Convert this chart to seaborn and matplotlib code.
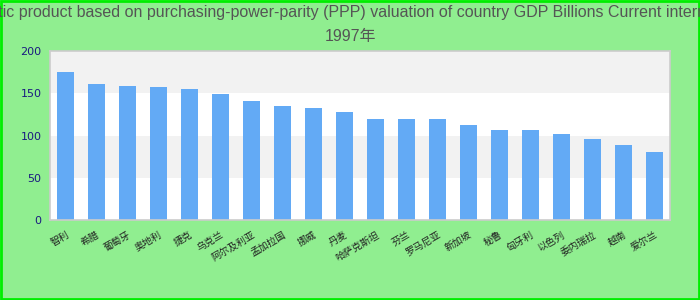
import matplotlib
matplotlib.use("Agg")
import matplotlib.pyplot as plt
import seaborn as sns
import pandas as pd

title = ("Gross domestic product based on purchasing-power-parity (PPP) valuation of "
         "country GDP Billions Current international dollar\n1997年")
countries = ["智利", "希腊", "葡萄牙", "奥地利", "捷克", "乌克兰", "阿尔及利亚", "孟加拉国",
             "挪威", "丹麦", "哈萨克斯坦", "芬兰", "罗马尼亚", "新加坡", "秘鲁", "匈牙利",
             "以色列", "委内瑞拉", "越南", "爱尔兰"]
values = [175, 161, 158, 157, 155, 149, 141, 135, 133, 128,
          119, 119, 119, 113, 106, 106, 102, 96, 89, 80]
yticks = [0, 50, 100, 150, 200]

sns.set_theme(style="white")
plt.rcParams['font.family'] = ['DejaVu Sans', 'Noto Sans CJK SC']

df = pd.DataFrame({"country": countries, "value": values})

fig = plt.figure(figsize=(7, 3), dpi=100, facecolor="#90ee90")
ax = fig.add_axes([50/700, 1-220/300, 620/700, 169/300])
ax.set_facecolor("white")

sns.barplot(data=df, x="country", y="value", color="#63aaf5", saturation=1,
            width=0.55, ax=ax, zorder=2, linewidth=0, edgecolor="none")

ax.set_xlim(-0.5, len(countries) - 0.5)
ax.set_ylim(0, 200)
for lo, hi in [(50, 100), (150, 200)]:
    ax.fill_between([-0.5, len(countries) - 0.5], lo, hi, color="#f2f2f2",
                    zorder=0.5, lw=0)
ax.set_yticks(yticks)
ax.set_yticklabels([str(t) for t in yticks], color="#1a1a80", fontsize=8,
                   family=['DejaVu Sans'])
ax.set_xlabel("")
ax.set_ylabel("")
ax.tick_params(axis="both", length=0)
ax.tick_params(axis="y", pad=6)
ax.tick_params(axis="x", pad=7)
ax.set_xticks(range(len(countries)))
ax.set_xticklabels(countries, rotation=30, ha="right", rotation_mode="anchor",
                   fontsize=7, color="#222222",
                   family=['Noto Sans CJK SC', 'DejaVu Sans'])
for s in ax.spines.values():
    s.set_color("#cccccc")
    s.set_linewidth(1.2)

tfam = ['Liberation Sans Narrow', 'Liberation Sans', 'Noto Sans CJK SC']
fig.text(0.5, 1 - 13/300, title.split("\n")[0], ha="center", va="center",
         fontsize=11.5, color="#555555", family=tfam)
fig.text(0.5, 1 - 36/300, title.split("\n")[1], ha="center", va="center",
         fontsize=11.5, color="#555555", family=tfam)

border = plt.Rectangle((0.001, 0.002), 0.998, 0.996, transform=fig.transFigure,
                       fill=False, edgecolor="#00ee00", lw=2)
fig.patches.append(border)

fig.savefig("out.png", dpi=100, facecolor=fig.get_facecolor())
